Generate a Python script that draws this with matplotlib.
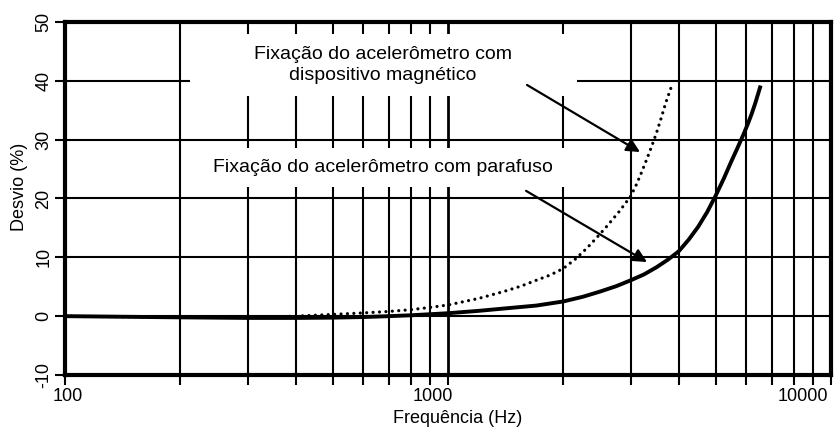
import matplotlib
matplotlib.use("Agg")
import matplotlib.pyplot as plt
from matplotlib.patches import Rectangle
from matplotlib.ticker import FixedLocator, NullFormatter
import matplotlib.transforms as mtransforms

plt.rcParams['font.family'] = ['Liberation Sans', 'DejaVu Sans']

# ---- data ----
freq_screw = [100, 200, 300, 400, 500, 600, 700, 800, 1000, 1200, 1400, 1700, 2000,
              2250, 2500, 2750, 3000, 3250, 3500, 3750, 4000, 4250, 4500, 4750, 5000,
              5250, 5500, 5700, 5900, 6050, 6200, 6350, 6550]
dev_screw = [0.0, -0.2, -0.3, -0.3, -0.25, -0.15, 0.0, 0.15, 0.5, 0.9, 1.3, 1.8, 2.5,
             3.3, 4.2, 5.1, 6.1, 7.1, 8.3, 9.6, 11.0, 13.0, 15.2, 17.7, 20.5,
             23.4, 26.4, 28.6, 30.8, 32.5, 34.3, 36.3, 39.2]

freq_mag = [100, 200, 300, 400, 500, 600, 700, 800, 900, 1000, 1200, 1400, 1550, 1700,
            1850, 2000, 2150, 2300, 2450, 2600, 2800, 3000, 3100, 3200, 3300, 3400,
            3500, 3600, 3700, 3830]
dev_mag = [0.0, -0.2, -0.25, 0.0, 0.3, 0.55, 0.8, 1.1, 1.5, 1.9, 3.0, 4.2, 5.1, 6.1,
           7.0, 8.1, 9.7, 11.5, 13.4, 15.3, 17.8, 20.4, 22.3, 24.4, 26.6, 28.8,
           31.1, 33.6, 36.2, 39.0]

major_x = [100, 1000, 10000]
major_x_labels = ['100', '1000', '10000']
minor_x = [200, 300, 400, 500, 600, 700, 800, 900,
           2000, 3000, 4000, 5000, 6000, 7000, 8000, 9000]
y_ticks = [-10, 0, 10, 20, 30, 40, 50]

label_mag = 'Fixação do acelerômetro com\ndispositivo magnético'
label_screw = 'Fixação do acelerômetro com parafuso'
xlabel = 'Frequência (Hz)'
ylabel = 'Desvio (%)'

# ---- figure ----
fig = plt.figure(figsize=(8.35, 4.38), dpi=100)
ax = fig.add_axes([65/835, 1-375/438, (831-65)/835, (375-22)/438])
ax.set_xscale('log')
ax.set_xlim(100, 10000)
ax.set_ylim(-10, 50)

ax.set_axisbelow(True)
ax.xaxis.set_major_locator(FixedLocator(major_x))
ax.xaxis.set_minor_locator(FixedLocator(minor_x))
ax.xaxis.set_minor_formatter(NullFormatter())
ax.xaxis.set_major_formatter(NullFormatter())
ax.set_yticks(y_ticks)
ax.set_yticklabels([str(v) for v in y_ticks], rotation=90, va='center')

ax.grid(True, which='major', axis='x', color='black', lw=2.0)
ax.grid(True, which='minor', axis='x', color='black', lw=1.5)
ax.grid(True, which='major', axis='y', color='black', lw=1.5)

ax.tick_params(axis='both', which='both', direction='out', length=7, width=1.5,
               color='black', labelsize=13)
ax.tick_params(axis='y', which='both', pad=2)

for sp in ax.spines.values():
    sp.set_linewidth(3.0)
    sp.set_color('black')

# x tick labels, slightly offset from their ticks as in the reference
offsets = [3, -15, -28]
base = ax.get_xaxis_transform()
for xv, lab, dx in zip(major_x, major_x_labels, offsets):
    tr = base + mtransforms.ScaledTranslation(dx/100, -13/100, fig.dpi_scale_trans)
    ax.text(xv, 0, lab, transform=tr, ha='center', va='top', fontsize=13,
            clip_on=False)

# white boxes behind the texts
ax.add_patch(Rectangle((0.163, 0.790), 0.668-0.163, 0.966-0.790, transform=ax.transAxes,
                       facecolor='white', edgecolor='none', zorder=1))
ax.add_patch(Rectangle((0.163, 0.533), 0.668-0.163, 0.643-0.533, transform=ax.transAxes,
                       facecolor='white', edgecolor='none', zorder=1))

# curves
ax.plot(freq_mag, dev_mag, color='black', lw=2.3, linestyle=(0, (0.01, 2.0)),
        dash_capstyle='round', zorder=3)
ax.plot(freq_screw, dev_screw, color='black', lw=2.8, zorder=3,
        solid_capstyle='butt', solid_joinstyle='round')

# annotations
ax.text(0.415, 0.878, label_mag, transform=ax.transAxes, ha='center', va='center',
        fontsize=14, linespacing=1.25, zorder=4)
ax.text(0.415, 0.589, label_screw, transform=ax.transAxes, ha='center', va='center',
        fontsize=14, zorder=4)

arrow_kw = dict(arrowstyle='-|>', color='black', lw=1.6, mutation_scale=20,
                shrinkA=0, shrinkB=0)
ax.annotate('', xy=(3172, 27.9), xytext=(1608, 39.3), arrowprops=arrow_kw, zorder=4)
ax.annotate('', xy=(3308, 9.2), xytext=(1599, 21.3), arrowprops=arrow_kw, zorder=4)

ax.set_xlabel(xlabel, fontsize=13)
ax.set_ylabel(ylabel, fontsize=13)
ax.xaxis.set_label_coords(0.513, -0.10)
ax.yaxis.set_label_coords(-0.048, 0.533)

fig.savefig('out.png', dpi=100)
